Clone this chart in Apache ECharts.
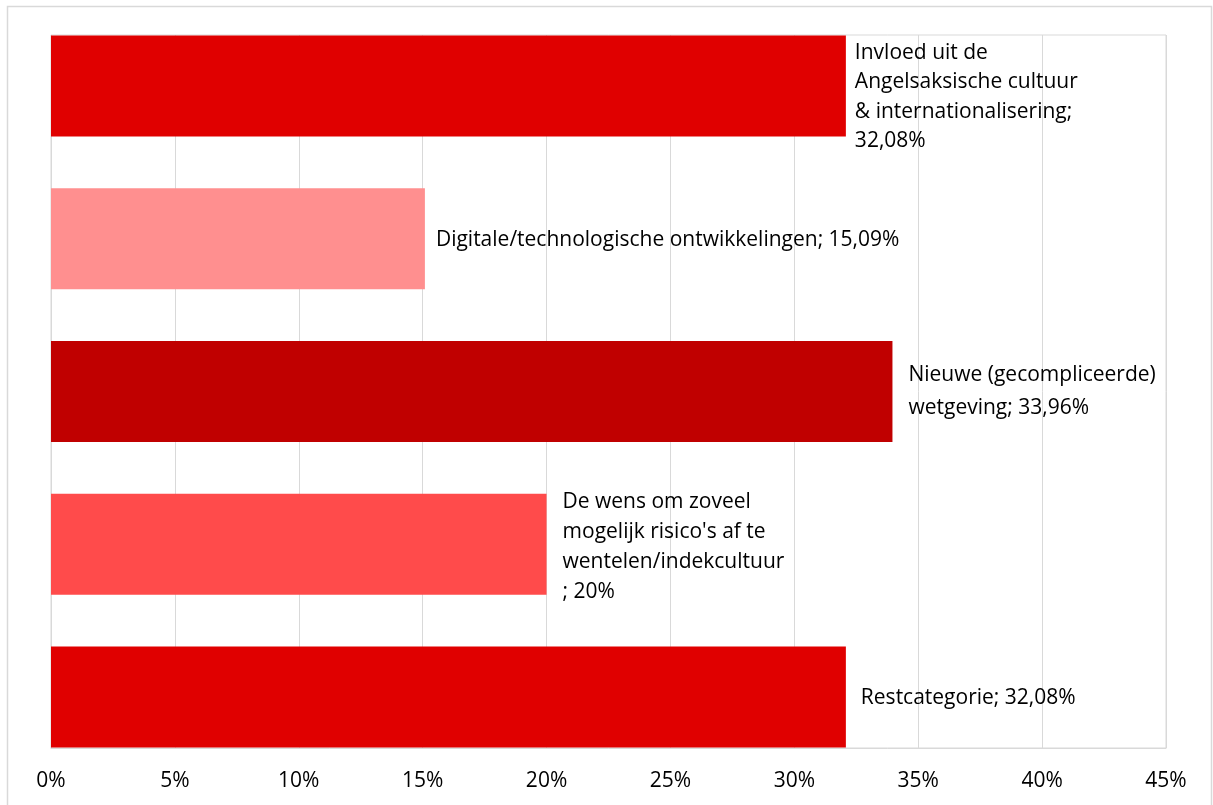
<!DOCTYPE html>
<html>
<head>
<meta charset="utf-8">
<script src="https://cdn.jsdelivr.net/npm/echarts@6/dist/echarts.min.js"></script>
<style>
html,body{margin:0;padding:0;background:#fff;}
#c{width:1213px;height:805px;}
</style>
</head>
<body>
<div id="c"></div>
<script>
const categories = [
  "Invloed uit de Angelsaksische cultuur & internationalisering",
  "Digitale/technologische ontwikkelingen",
  "Nieuwe (gecompliceerde) wetgeving",
  "De wens om zoveel mogelijk risico's af te wentelen/indekcultuur",
  "Restcategorie"
];
const values = [0.3208, 0.1509, 0.3396, 0.20, 0.3208];
const labelTexts = [
  "Invloed uit de\nAngelsaksische cultuur\n& internationalisering;\n32,08%",
  "Digitale/technologische ontwikkelingen; 15,09%",
  "Nieuwe (gecompliceerde)\nwetgeving; 33,96%",
  "De wens om zoveel\nmogelijk risico's af te\nwentelen/indekcultuur\n; 20%",
  "Restcategorie; 32,08%"
];
const tickValues = [0, 0.05, 0.10, 0.15, 0.20, 0.25, 0.30, 0.35, 0.40, 0.45];
const colors = ["#e00000", "#ff8f8f", "#c00000", "#ff4b4b", "#e00000"];

const labelStyle = [
  {distance: 9, lineHeight: 29.5, offset: [0, 11]},
  {distance: 11, lineHeight: 26, offset: [0, 1]},
  {distance: 16, lineHeight: 33, offset: [0, 0]},
  {distance: 16, lineHeight: 30, offset: [0, 3]},
  {distance: 15, lineHeight: 26, offset: [0, 1]}
];

const FONT = "'Open Sans', sans-serif";
const chart = echarts.init(document.getElementById('c'), null, {renderer: 'canvas'});

const data = values.map((v, i) => ({
  value: v,
  itemStyle: {color: colors[i]},
  label: {
    formatter: labelTexts[i],
    distance: labelStyle[i].distance,
    lineHeight: labelStyle[i].lineHeight,
    offset: labelStyle[i].offset
  }
}));

chart.setOption({
  animation: false,
  backgroundColor: '#fff',
  graphic: [{
    type: 'rect',
    shape: {x: 7.5, y: 6.5, width: 1204, height: 810},
    style: {fill: 'none', stroke: '#d9d9d9', lineWidth: 1.5},
    silent: true,
    z: -10
  }],
  grid: [
    {left: 51, right: 47, top: 35, bottom: 57, show: true, borderColor: '#d9d9d9', borderWidth: 1, containLabel: false},
    {left: 51, right: 47, top: 9.5, bottom: 31.5, containLabel: false}
  ],
  xAxis: [
    {
      type: 'value', gridIndex: 0, min: 0, max: 0.45, interval: 0.05,
      axisLine: {show: true, lineStyle: {color: '#d9d9d9', width: 1}},
      axisTick: {show: false},
      splitLine: {show: true, lineStyle: {color: '#d9d9d9', width: 1}},
      axisLabel: {
        margin: 23,
        color: '#000',
        fontFamily: FONT,
        fontSize: 21,
        formatter: function (v) {
          const idx = tickValues.findIndex(t => Math.abs(t - v) < 1e-9);
          return idx >= 0 ? Math.round(tickValues[idx] * 100) + '%' : '';
        }
      }
    },
    {
      type: 'value', gridIndex: 1, min: 0, max: 0.45,
      show: false
    }
  ],
  yAxis: [
    {type: 'category', gridIndex: 0, data: categories, inverse: true, show: false},
    {type: 'category', gridIndex: 1, data: categories, inverse: true, show: false}
  ],
  series: [{
    type: 'bar',
    xAxisIndex: 1,
    yAxisIndex: 1,
    barWidth: 101,
    data: data,
    label: {
      show: true,
      position: 'right',
      color: '#000',
      fontFamily: FONT,
      fontSize: 21,
      align: 'left'
    }
  }]
});
</script>
</body>
</html>
